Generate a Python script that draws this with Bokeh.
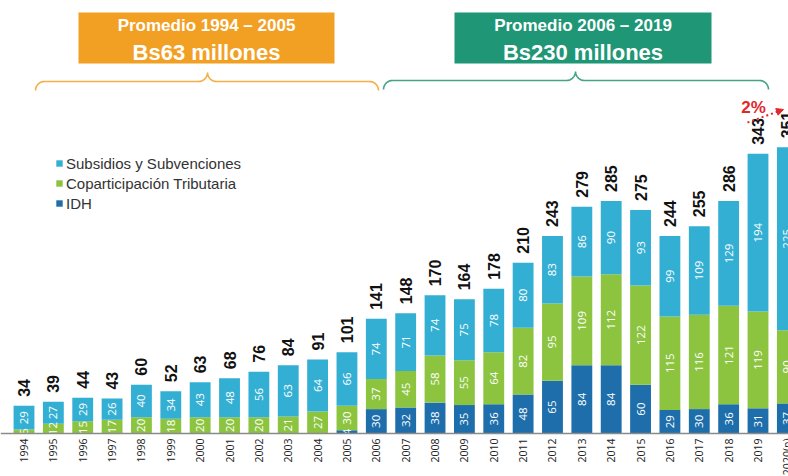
import numpy as np
from bokeh.plotting import figure
from bokeh.models import (ColumnDataSource, Span, Legend, LegendItem, Arrow,
                          NormalHead, Range1d)
from bokeh.core.properties import value
from bokeh.embed import file_html
from bokeh.resources import INLINE

# ---------------- data ----------------
years = ["1994", "1995", "1996", "1997", "1998", "1999", "2000", "2001", "2002",
         "2003", "2004", "2005", "2006", "2007", "2008", "2009", "2010", "2011",
         "2012", "2013", "2014", "2015", "2016", "2017", "2018", "2019", "2020(p)"]
idh = [0, 0, 0, 0, 0, 0, 0, 0, 0, 0, 0, 4, 30, 32, 38, 35, 36, 48, 65, 84, 84,
       60, 29, 30, 36, 31, 37]
copart = [5, 12, 15, 17, 20, 18, 20, 20, 20, 21, 27, 30, 37, 45, 58, 55, 64, 82,
          95, 109, 112, 122, 115, 116, 121, 119, 90]
subs = [29, 27, 29, 26, 40, 34, 43, 48, 56, 63, 64, 66, 74, 71, 74, 75, 78, 80,
        83, 86, 90, 93, 99, 109, 129, 194, 225]
totals = [34, 39, 44, 43, 60, 52, 63, 68, 76, 84, 91, 101, 141, 148, 170, 164,
          178, 210, 243, 279, 285, 275, 244, 255, 286, 343, 351]
series_names = ["Subsidios y Subvenciones", "Coparticipación Tributaria", "IDH"]
period_titles = ["Promedio 1994 – 2005", "Promedio 2006 – 2019"]
period_values = ["Bs63 millones", "Bs230 millones"]
growth_label = "2%"

# ---------------- layout ----------------
W, H = 788, 476
X0, DX = 23.5, 29.36     # pixel of first category, pixels per category
Y0, DY = 433.0, 0.813    # baseline pixel, pixels per unit


def px2x(px):
    return (px - X0) / DX


def px2y(py):
    return (Y0 - py) / DY


C_SUBS = "#33AFD4"
C_COP = "#8CC43F"
C_IDH = "#1D6EAB"
C_ORANGE = "#F2A024"
C_GREEN = "#1F9675"

p = figure(width=W, height=H, output_backend="svg", toolbar_location=None,
           x_range=Range1d(px2x(0), px2x(W)), y_range=Range1d(px2y(H), px2y(0)),
           x_axis_type=None, y_axis_type=None, min_border=0)
p.grid.visible = False
p.outline_line_color = None
p.background_fill_color = "white"

n = len(years)
xs = np.arange(n)
src = ColumnDataSource(dict(x=xs, idh=idh, copart=copart, subs=subs))
rends = p.vbar_stack(["idh", "copart", "subs"], x="x", width=0.71,
                     color=[C_IDH, C_COP, C_SUBS], line_color=None, source=src)

# segment labels
lab_x, lab_y, lab_t = [], [], []
bottoms = np.zeros(n)
for vals in (idh, copart, subs):
    v = np.array(vals, dtype=float)
    for i in range(n):
        if v[i] > 0:
            lab_x.append(xs[i])
            lab_y.append(bottoms[i] + v[i] / 2)
            lab_t.append(str(vals[i]))
    bottoms = bottoms + v
p.text(x=lab_x, y=lab_y, text=lab_t, angle=np.pi / 2, text_align="center",
       text_baseline="middle", text_color="white", text_font=value("Open Sans"),
       text_font_size="11.5px")

# totals
tsrc = ColumnDataSource(dict(x=xs, y=bottoms, t=[str(t) for t in totals]))
p.text(x="x", y="y", text="t", source=tsrc, angle=np.pi / 2, y_offset=-9,
       text_align="left", text_baseline="middle", text_color="#111111",
       text_font=value("Liberation Sans"), text_font_style="bold",
       text_font_size="16px")

# baseline
p.add_layout(Span(location=0, dimension="width", line_color="#8a8a8a",
                  line_width=1.5))

# year labels
ysrc = ColumnDataSource(dict(x=xs, y=[px2y(Y0 + 5)] * n, t=years))
p.text(x="x", y="y", text="t", source=ysrc, angle=np.pi / 2,
       text_align="right", text_baseline="middle", text_color="#222222",
       text_font=value("Open Sans"), text_font_size="10.5px")

# legend
legend = Legend(items=[LegendItem(label=series_names[0], renderers=[rends[2]]),
                       LegendItem(label=series_names[1], renderers=[rends[1]]),
                       LegendItem(label=series_names[2], renderers=[rends[0]])],
                location=(55, 263), background_fill_alpha=0, border_line_alpha=0,
                glyph_width=8, glyph_height=8, label_text_font_size="15px",
                label_text_font="Liberation Sans", label_text_color="#333333",
                spacing=0, label_height=20, padding=0, margin=0,
                label_standoff=3)
p.add_layout(legend)


# braces
def brace(x0, x1, xc, yl, r):
    pts = []
    t = np.linspace(np.pi, 1.5 * np.pi, 12)
    pts += list(zip(x0 + r + r * np.cos(t), yl + r + r * np.sin(t)))
    t = np.linspace(0.5 * np.pi, 0, 12)
    pts += list(zip(xc - r + r * np.cos(t), yl - r + r * np.sin(t)))
    t = np.linspace(np.pi, 0.5 * np.pi, 12)
    pts += list(zip(xc + r + r * np.cos(t), yl - r + r * np.sin(t)))
    t = np.linspace(1.5 * np.pi, 2 * np.pi, 12)
    pts += list(zip(x1 - r + r * np.cos(t), yl + r + r * np.sin(t)))
    bx = [px2x(a) for a, b in pts]
    by = [px2y(b) for a, b in pts]
    return bx, by


bx, by = brace(35, 378, 207, 81, 9)
p.line(bx, by, line_color="#F3AE48", line_width=1.6)
bx, by = brace(383, 768, 575, 80, 9)
p.line(bx, by, line_color="#45A486", line_width=1.6)

# period boxes
box_cx = [206, 582.5]
box_w = [256, 257]
p.rect(x=[px2x(c) for c in box_cx], y=[px2y(37.5)] * 2, width=box_w,
       height=[51, 51], width_units="screen", height_units="screen",
       fill_color=[C_ORANGE, C_GREEN], line_color=None)
p.text(x=[px2x(c) for c in box_cx], y=[px2y(25)] * 2, text=period_titles,
       text_align="center", text_baseline="middle", text_color="white",
       text_font=value("Liberation Sans"), text_font_style="bold",
       text_font_size="17px")
p.text(x=[px2x(c) for c in box_cx], y=[px2y(51.5)] * 2, text=period_values,
       text_align="center", text_baseline="middle", text_color="white",
       text_font=value("Liberation Sans"), text_font_style="bold",
       text_font_size="22px")

# growth annotation
p.add_layout(Arrow(end=NormalHead(size=7, fill_color="#E3262A",
                                  line_color="#E3262A"),
                   x_start=px2x(747), y_start=px2y(122),
                   x_end=px2x(783), y_end=px2y(109),
                   line_color="#E3262A", line_width=2, line_dash="2 3"))
p.text(x=[px2x(753)], y=[px2y(107)], text=[growth_label], text_align="center",
       text_baseline="middle", text_color="#E3262A",
       text_font=value("Liberation Sans"), text_font_style="bold",
       text_font_size="17px")

open("out.html", "w").write(file_html(p, INLINE))
